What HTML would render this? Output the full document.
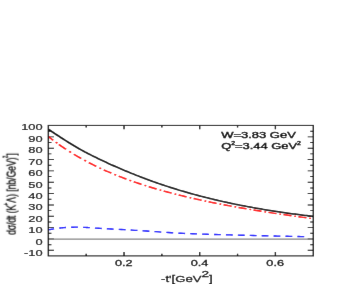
<!DOCTYPE html>
<html><head><meta charset="utf-8"><title>chart</title>
<style>html,body{margin:0;padding:0;background:#fff;}body{width:343px;height:284px;overflow:hidden;position:relative;font-family:"Liberation Sans",sans-serif;}svg{position:absolute;left:0;top:0;}</style></head>
<body>
<svg width="343" height="284" viewBox="0 0 343 284">
<defs><filter id="bl" x="0" y="0" width="343" height="284" filterUnits="userSpaceOnUse"><feConvolveMatrix order="3" kernelMatrix="0.00225 0.04050 0.00225 0.04550 0.81900 0.04550 0.00225 0.04050 0.00225" edgeMode="duplicate" preserveAlpha="true"/></filter></defs>
<g filter="url(#bl)">
<rect width="343" height="284" fill="#fff"/>
<g transform="scale(1.400,1)" fill="none">
<path d="M34.54,250.33 h4.00 M223.79,250.33 h-4.00 M34.54,244.65 h2.21 M223.79,244.65 h-2.21 M34.54,238.98 h4.00 M223.79,238.98 h-4.00 M34.54,233.31 h2.21 M223.79,233.31 h-2.21 M34.54,227.63 h4.00 M223.79,227.63 h-4.00 M34.54,221.96 h2.21 M223.79,221.96 h-2.21 M34.54,216.28 h4.00 M223.79,216.28 h-4.00 M34.54,210.61 h2.21 M223.79,210.61 h-2.21 M34.54,204.94 h4.00 M223.79,204.94 h-4.00 M34.54,199.26 h2.21 M223.79,199.26 h-2.21 M34.54,193.59 h4.00 M223.79,193.59 h-4.00 M34.54,187.91 h2.21 M223.79,187.91 h-2.21 M34.54,182.24 h4.00 M223.79,182.24 h-4.00 M34.54,176.57 h2.21 M223.79,176.57 h-2.21 M34.54,170.89 h4.00 M223.79,170.89 h-4.00 M34.54,165.22 h2.21 M223.79,165.22 h-2.21 M34.54,159.54 h4.00 M223.79,159.54 h-4.00 M34.54,153.87 h2.21 M223.79,153.87 h-2.21 M34.54,148.20 h4.00 M223.79,148.20 h-4.00 M34.54,142.52 h2.21 M223.79,142.52 h-2.21 M34.54,136.85 h4.00 M223.79,136.85 h-4.00 M34.54,131.17 h2.21 M223.79,131.17 h-2.21 M61.56,255.90 v-2.10 M61.56,125.40 v2.10 M88.59,255.90 v-3.80 M88.59,125.40 v3.80 M115.62,255.90 v-2.10 M115.62,125.40 v2.10 M142.65,255.90 v-3.80 M142.65,125.40 v3.80 M169.68,255.90 v-2.10 M169.68,125.40 v2.10 M196.71,255.90 v-3.80 M196.71,125.40 v3.80" stroke="#000" stroke-width="0.95"/>
<line x1="34.54" x2="223.79" y1="239.08" y2="239.08" stroke="#858585" stroke-width="1.2"/>
<clipPath id="c"><rect x="34.54" y="125.4" width="189.25" height="130.5"/></clipPath>
<g clip-path="url(#c)">
<path d="M34.29,129.02 L35.48,130.16 L36.67,131.28 L37.86,132.39 L39.05,133.50 L40.24,134.59 L41.44,135.68 L42.63,136.76 L43.82,137.84 L45.01,138.92 L46.20,139.99 L47.40,141.04 L48.59,142.09 L49.78,143.13 L50.97,144.17 L52.16,145.17 L53.35,146.15 L54.55,147.12 L55.74,148.09 L56.93,149.04 L58.12,149.99 L59.31,150.93 L60.51,151.84 L61.70,152.70 L62.89,153.56 L64.08,154.42 L65.27,155.26 L66.46,156.09 L67.66,156.92 L68.85,157.74 L70.04,158.55 L71.23,159.36 L72.42,160.15 L73.62,160.94 L74.81,161.72 L76.00,162.49 L77.19,163.26 L78.38,164.02 L79.58,164.77 L80.77,165.51 L81.96,166.24 L83.15,166.97 L84.34,167.69 L85.53,168.40 L86.73,169.12 L87.92,169.83 L89.11,170.54 L90.30,171.23 L91.49,171.92 L92.69,172.61 L93.88,173.28 L95.07,173.95 L96.26,174.61 L97.45,175.28 L98.64,175.94 L99.84,176.59 L101.03,177.23 L102.22,177.87 L103.41,178.50 L104.60,179.13 L105.80,179.75 L106.99,180.36 L108.18,180.97 L109.37,181.57 L110.56,182.16 L111.75,182.75 L112.95,183.33 L114.14,183.90 L115.33,184.47 L116.52,185.03 L117.71,185.59 L118.91,186.14 L120.10,186.68 L121.29,187.22 L122.48,187.75 L123.67,188.28 L124.86,188.80 L126.06,189.31 L127.25,189.82 L128.44,190.32 L129.63,190.82 L130.82,191.31 L132.02,191.80 L133.21,192.28 L134.40,192.76 L135.59,193.23 L136.78,193.69 L137.97,194.15 L139.17,194.61 L140.36,195.06 L141.55,195.50 L142.74,195.94 L143.93,196.38 L145.13,196.81 L146.32,197.23 L147.51,197.65 L148.70,198.07 L149.89,198.48 L151.08,198.89 L152.28,199.29 L153.47,199.68 L154.66,200.08 L155.85,200.46 L157.04,200.85 L158.24,201.23 L159.43,201.60 L160.62,201.97 L161.81,202.33 L163.00,202.70 L164.19,203.05 L165.39,203.41 L166.58,203.76 L167.77,204.10 L168.96,204.44 L170.15,204.78 L171.35,205.11 L172.54,205.44 L173.73,205.76 L174.92,206.08 L176.11,206.40 L177.30,206.72 L178.50,207.02 L179.69,207.33 L180.88,207.63 L182.07,207.93 L183.26,208.23 L184.46,208.52 L185.65,208.81 L186.84,209.09 L188.03,209.37 L189.22,209.65 L190.41,209.93 L191.61,210.20 L192.80,210.46 L193.99,210.73 L195.18,210.99 L196.37,211.25 L197.57,211.50 L198.76,211.76 L199.95,212.00 L201.14,212.25 L202.33,212.49 L203.52,212.73 L204.72,212.97 L205.91,213.20 L207.10,213.44 L208.29,213.66 L209.48,213.89 L210.68,214.11 L211.87,214.33 L213.06,214.55 L214.25,214.76 L215.44,214.98 L216.63,215.19 L217.83,215.39 L219.02,215.60 L220.21,215.80 L221.40,216.00 L222.59,216.19 L223.79,216.39" stroke="#000" stroke-width="1.5"/>
<path d="M34.29,136.27 L35.48,137.58 L36.67,138.87 L37.86,140.14 L38.07,140.36 M39.79,142.14 L40.24,142.61 L40.93,143.30 M34.29,136.27 L35.48,137.58 L36.67,138.87 L37.86,140.14 L38.07,140.36 M39.79,142.14 L40.24,142.61 L40.93,143.30 M42.07,144.44 L42.63,144.99 L43.82,146.15 L45.01,147.29 L46.20,148.41 L47.21,149.33 M49.47,151.37 L49.78,151.65 L50.69,152.44 M52.76,154.22 L53.35,154.72 L54.55,155.71 L55.74,156.69 L56.93,157.64 L57.99,158.48 M60.22,160.21 L60.51,160.42 L61.44,161.12 M63.46,162.61 L64.08,163.07 L65.27,163.92 L66.46,164.76 L67.66,165.59 L68.77,166.34 M70.97,167.82 L71.23,167.99 L72.19,168.61 M74.15,169.87 L74.81,170.28 L76.00,171.02 L77.19,171.75 L78.38,172.47 L79.55,173.16 M81.72,174.43 L81.96,174.56 L82.94,175.12 M84.84,176.19 L85.53,176.57 L86.73,177.22 L87.92,177.86 L89.11,178.49 L90.30,179.11 L90.33,179.12 M92.48,180.22 L92.69,180.32 L93.69,180.83 M95.54,181.73 L96.26,182.09 L97.45,182.66 L98.64,183.22 L99.84,183.78 L101.03,184.33 L101.11,184.36 M103.23,185.32 L103.41,185.40 L104.44,185.86 M106.23,186.64 L106.99,186.97 L108.18,187.48 L109.37,187.98 L110.56,188.47 L111.75,188.96 L111.89,189.02 M113.98,189.86 L114.14,189.92 L115.19,190.34 M116.92,191.02 L117.71,191.32 L118.91,191.78 L120.10,192.23 L121.29,192.67 L122.48,193.11 L122.64,193.17 M124.71,193.92 L124.86,193.97 L125.92,194.35 M127.61,194.95 L128.44,195.23 L129.63,195.64 L130.82,196.05 L132.02,196.45 L133.21,196.85 L133.33,196.89 M135.40,197.57 L135.59,197.63 L136.61,197.96 M138.31,198.50 L139.17,198.77 L140.36,199.15 L141.55,199.52 L142.74,199.88 L143.93,200.24 L144.02,200.27 M146.09,200.89 L146.32,200.96 L147.31,201.25 M149.00,201.74 L149.89,202.00 L151.08,202.34 L152.28,202.68 L153.47,203.02 L154.66,203.35 L154.71,203.36 M156.79,203.93 L157.04,204.00 L158.00,204.26 M159.69,204.72 L160.62,204.96 L161.81,205.28 L163.00,205.59 L164.19,205.90 L165.39,206.21 L165.41,206.21 M167.48,206.74 L167.77,206.81 L168.69,207.04 M170.39,207.46 L171.35,207.70 L172.54,207.99 L173.73,208.28 L174.92,208.57 L176.10,208.85 M178.17,209.34 L178.50,209.41 L179.39,209.62 M181.08,210.01 L182.07,210.24 L183.26,210.51 L184.46,210.78 L185.65,211.05 L186.79,211.31 M188.86,211.76 L189.22,211.84 L190.08,212.03 M191.77,212.39 L192.80,212.61 L193.99,212.87 L195.18,213.12 L196.37,213.37 L197.49,213.60 M199.56,214.03 L199.95,214.11 L200.77,214.28 M202.46,214.62 L203.52,214.84 L204.72,215.08 L205.91,215.31 L207.10,215.55 L208.18,215.76 M210.25,216.16 L210.68,216.25 L211.46,216.40 M213.16,216.72 L214.25,216.93 L215.44,217.15 L216.63,217.38 L217.83,217.60 L218.87,217.79 M220.94,218.17 L221.40,218.26 L222.16,218.39" stroke="#f00" stroke-width="1.45"/>
<path d="M34.64,229.75 L34.98,229.68 L35.39,229.59 L35.86,229.49 L36.39,229.37 L36.97,229.24 L37.58,229.10 L38.23,228.96 L38.64,228.87 M42.29,228.13 L42.38,228.11 L43.05,227.99 L43.68,227.89 L44.29,227.80 L44.86,227.72 L45.44,227.65 L46.00,227.59 L46.57,227.53 L47.13,227.48 L47.14,227.48 M50.79,227.26 L51.00,227.26 L51.55,227.24 L52.10,227.22 L52.66,227.21 L53.21,227.20 L53.78,227.19 L54.34,227.19 L54.91,227.19 L55.49,227.20 L55.65,227.21 M59.30,227.34 L59.48,227.35 L60.04,227.38 L60.58,227.41 L61.11,227.44 L61.63,227.47 L62.14,227.50 L62.60,227.53 L62.98,227.56 L63.31,227.59 L63.59,227.61 L63.84,227.64 L64.07,227.67 L64.16,227.68 M67.81,228.07 L68.29,228.12 L69.29,228.20 L70.42,228.29 L71.67,228.39 L72.66,228.47 M76.31,228.74 L77.66,228.84 L79.36,228.97 L81.13,229.10 L81.17,229.10 M84.82,229.38 L86.71,229.52 L88.63,229.67 L89.68,229.75 M93.33,230.04 L94.48,230.14 L96.43,230.30 L98.19,230.45 M101.84,230.78 L102.51,230.84 L104.64,231.04 L106.69,231.24 M110.34,231.59 L111.24,231.67 L113.49,231.89 L115.20,232.05 M118.85,232.39 L120.27,232.52 L122.52,232.71 L123.71,232.81 M127.36,233.11 L129.14,233.25 L131.29,233.40 L132.21,233.46 M135.86,233.69 L137.60,233.79 L139.69,233.90 L140.72,233.95 M144.37,234.12 L145.90,234.19 L147.96,234.28 L149.23,234.33 M152.88,234.47 L154.10,234.51 L156.14,234.59 L157.74,234.65 M161.39,234.79 L162.25,234.82 L164.29,234.90 L166.24,234.98 M169.89,235.11 L170.48,235.14 L172.57,235.21 L174.67,235.29 L174.75,235.29 M178.40,235.42 L178.85,235.43 L180.92,235.50 L182.98,235.57 L183.26,235.58 M186.91,235.70 L187.02,235.70 L188.99,235.76 L190.92,235.82 L191.76,235.85 M195.41,235.97 L196.43,236.00 L198.19,236.06 L199.98,236.11 L200.27,236.12 M203.92,236.23 L205.32,236.27 L207.05,236.32 L208.75,236.37 L208.78,236.37 M212.43,236.48 L213.50,236.51 L214.92,236.55 L216.25,236.58 L217.29,236.61" stroke="#00f" stroke-width="1.35"/>
</g>
<rect x="34.54" y="125.40" width="189.25" height="130.50" stroke="#000" stroke-width="1.0"/>
</g>
<text transform="translate(42.60,255.94) scale(1.370,1)" font-size="9.40" text-anchor="end" font-family="Liberation Sans, sans-serif" fill="#000" stroke="#000" stroke-width="0.18">-10</text>
<text transform="translate(42.60,244.53) scale(1.370,1)" font-size="9.40" text-anchor="end" font-family="Liberation Sans, sans-serif" fill="#000" stroke="#000" stroke-width="0.18">0</text>
<text transform="translate(42.60,233.12) scale(1.370,1)" font-size="9.40" text-anchor="end" font-family="Liberation Sans, sans-serif" fill="#000" stroke="#000" stroke-width="0.18">10</text>
<text transform="translate(42.60,221.72) scale(1.370,1)" font-size="9.40" text-anchor="end" font-family="Liberation Sans, sans-serif" fill="#000" stroke="#000" stroke-width="0.18">20</text>
<text transform="translate(42.60,210.31) scale(1.370,1)" font-size="9.40" text-anchor="end" font-family="Liberation Sans, sans-serif" fill="#000" stroke="#000" stroke-width="0.18">30</text>
<text transform="translate(42.60,198.91) scale(1.370,1)" font-size="9.40" text-anchor="end" font-family="Liberation Sans, sans-serif" fill="#000" stroke="#000" stroke-width="0.18">40</text>
<text transform="translate(42.60,187.50) scale(1.370,1)" font-size="9.40" text-anchor="end" font-family="Liberation Sans, sans-serif" fill="#000" stroke="#000" stroke-width="0.18">50</text>
<text transform="translate(42.60,176.10) scale(1.370,1)" font-size="9.40" text-anchor="end" font-family="Liberation Sans, sans-serif" fill="#000" stroke="#000" stroke-width="0.18">60</text>
<text transform="translate(42.60,164.69) scale(1.370,1)" font-size="9.40" text-anchor="end" font-family="Liberation Sans, sans-serif" fill="#000" stroke="#000" stroke-width="0.18">70</text>
<text transform="translate(42.60,153.29) scale(1.370,1)" font-size="9.40" text-anchor="end" font-family="Liberation Sans, sans-serif" fill="#000" stroke="#000" stroke-width="0.18">80</text>
<text transform="translate(42.60,141.88) scale(1.370,1)" font-size="9.40" text-anchor="end" font-family="Liberation Sans, sans-serif" fill="#000" stroke="#000" stroke-width="0.18">90</text>
<text transform="translate(42.60,130.48) scale(1.370,1)" font-size="9.40" text-anchor="end" font-family="Liberation Sans, sans-serif" fill="#000" stroke="#000" stroke-width="0.18">100</text>
<text transform="translate(123.83,266.30) scale(1.310,1)" font-size="9.70" text-anchor="middle" font-family="Liberation Sans, sans-serif" fill="#000" stroke="#000" stroke-width="0.30">0.2</text>
<text transform="translate(199.51,266.30) scale(1.310,1)" font-size="9.70" text-anchor="middle" font-family="Liberation Sans, sans-serif" fill="#000" stroke="#000" stroke-width="0.30">0.4</text>
<text transform="translate(275.19,266.30) scale(1.310,1)" font-size="9.70" text-anchor="middle" font-family="Liberation Sans, sans-serif" fill="#000" stroke="#000" stroke-width="0.30">0.6</text>
<text transform="translate(161.00,281.60) scale(1.400,1)" font-size="9.40" text-anchor="start" font-family="Liberation Sans, sans-serif" fill="#000" stroke="#000" stroke-width="0.25">-t'[GeV<tspan dy="-4.2" font-size="9.8">2</tspan><tspan dy="4.2">]</tspan></text>
<text transform="translate(221.20,137.70) scale(1.510,1)" font-size="8.60" text-anchor="start" font-family="Liberation Sans, sans-serif" fill="#000" stroke="#000" stroke-width="0.40">W=3.83 GeV</text>
<text transform="translate(221.20,148.70) scale(1.500,1)" font-size="8.60" text-anchor="start" font-family="Liberation Sans, sans-serif" fill="#000" stroke="#000" stroke-width="0.40">Q<tspan dy="-3.8" font-size="4.6">2</tspan><tspan dy="3.8">=3.44 GeV</tspan><tspan dy="-3.8" font-size="4.6">2</tspan></text>
<text id="yt" transform="translate(15.1,234.8) rotate(-90) scale(1,1.5)" font-size="8.75" font-family="Liberation Sans, sans-serif" stroke="#000" stroke-width="0.2" fill="#000"><tspan letter-spacing="-0.17">d&#963;/dt </tspan>(K<tspan dy="-4.6" dx="-0.6" font-size="4.4">+</tspan><tspan dy="4.6">&#923;) </tspan><tspan letter-spacing="-0.12">[nb/GeV)</tspan><tspan dy="-5.1" dx="-0.5" font-size="4.4">2</tspan><tspan dy="5.1">]</tspan></text>
</g></svg>
</body></html>
